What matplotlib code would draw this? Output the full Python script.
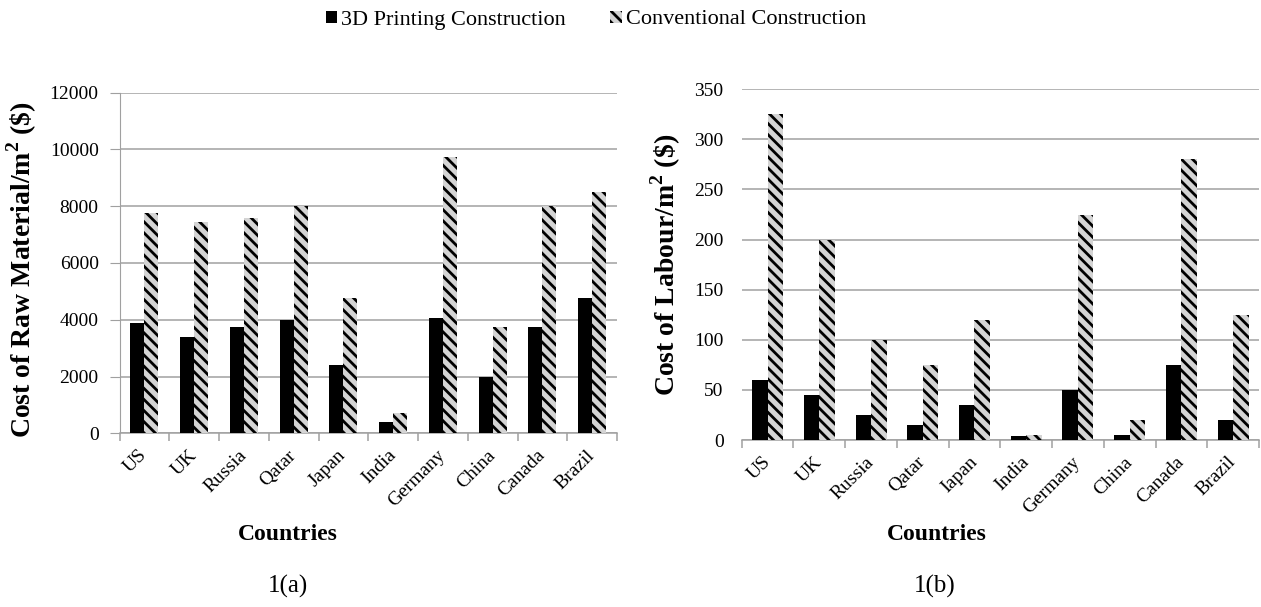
import matplotlib
matplotlib.use("Agg")
import matplotlib.pyplot as plt
import numpy as np

countries = ["US", "UK", "Russia", "Qatar", "Japan", "India", "Germany", "China", "Canada", "Brazil"]
labels_b = ["US", "UK", "Russia", "Qatar", "Iapan", "India", "Germany", "China", "Canada", "Brazil"]
raw_3d = [3900, 3400, 3750, 4000, 2400, 380, 4050, 2000, 3750, 4750]
raw_conv = [7750, 7450, 7600, 8000, 4750, 700, 9750, 3750, 8000, 8500]
lab_3d = [60, 45, 25, 15, 35, 4, 50, 5, 75, 20]
lab_conv = [325, 200, 100, 75, 120, 5, 225, 20, 280, 125]
series_names = ["3D Printing Construction", "Conventional Construction"]

plt.rcParams['font.family'] = ['Liberation Serif', 'DejaVu Serif']
plt.rcParams['mathtext.fontset'] = 'custom'
plt.rcParams['mathtext.rm'] = 'Liberation Serif'
plt.rcParams['mathtext.bf'] = 'Liberation Serif:bold'
plt.rcParams['hatch.linewidth'] = 2.0

GRID = '#a0a0a0'
HATCH_BG = '#d4d4d4'

fig = plt.figure(figsize=(12.61, 6.07), dpi=100)

def draw(ax, v3d, vconv, labels, ylim, step, bw, left_spine, ypad, ylen):
    x = np.arange(len(labels))
    b1 = ax.bar(x - bw / 2, v3d, width=bw, color='black', linewidth=0, zorder=3)
    b2 = ax.bar(x + bw / 2, vconv, width=bw, color=HATCH_BG, edgecolor='black',
                hatch='\\\\\\', linewidth=0, zorder=3)
    ax.set_xlim(-0.5, len(labels) - 0.5)
    ax.set_ylim(0, ylim)
    ax.set_yticks(np.arange(0, ylim + 1, step))
    ax.yaxis.grid(True, color=GRID, linewidth=1.1, zorder=0)
    ax.set_axisbelow(True)
    for s in ['top', 'right']:
        ax.spines[s].set_visible(False)
    ax.spines['left'].set_visible(left_spine)
    ax.spines['left'].set_color(GRID)
    ax.spines['bottom'].set_color(GRID)
    ax.spines['bottom'].set_linewidth(1.1)
    ax.tick_params(axis='y', length=ylen, color=GRID, labelsize=14, pad=ypad)
    ax.set_xticks(x)
    ax.set_xticklabels(labels, rotation=45, ha='right', va='center',
                       rotation_mode='anchor', fontsize=14)
    ax.tick_params(axis='x', which='major', length=0, pad=14)
    ax.set_xticks(np.arange(-0.5, len(labels)), minor=True)
    ax.tick_params(axis='x', which='minor', length=6, color=GRID, width=1.1)
    return b1, b2

ax1 = fig.add_axes([0.0948, 0.2862, 0.3945, 0.5611])
h1, h2 = draw(ax1, raw_3d, raw_conv, countries, 12000, 2000, 0.28, True, 8, 7)
ax1.set_ylabel(r"Cost of Raw Material/m$^{\mathbf{2}}$ (\$)", fontsize=20,
               fontweight='bold')
ax1.yaxis.set_label_coords(-0.162, 0.48)

ax2 = fig.add_axes([0.5882, 0.2751, 0.4102, 0.5778])
draw(ax2, lab_3d, lab_conv, labels_b, 350, 50, 0.30, False, 13, 0)
ax2.set_ylabel(r"Cost of Labour/m$^{\mathbf{2}}$ (\$)", fontsize=20,
               fontweight='bold')
ax2.yaxis.set_label_coords(-0.1135, 0.5)

fig.text(288 / 1261, 1 - 535 / 607, "Countries", fontsize=17, fontweight='bold',
         ha='center', va='center')
fig.text(937 / 1261, 1 - 535 / 607, "Countries", fontsize=17, fontweight='bold',
         ha='center', va='center')
fig.text(288 / 1261, 1 - 586 / 607, "1(a)", fontsize=18, ha='center', va='center')
fig.text(935 / 1261, 1 - 586 / 607, "1(b)", fontsize=18, ha='center', va='center')

fig.legend([h1, h2], series_names, loc='center', bbox_to_anchor=(596 / 1261, 1 - 20 / 607),
           ncol=2, frameon=False, fontsize=16, handlelength=0.5, handleheight=0.45,
           handletextpad=0.2, columnspacing=2.0)

fig.savefig("out.png", dpi=100, facecolor='white')
